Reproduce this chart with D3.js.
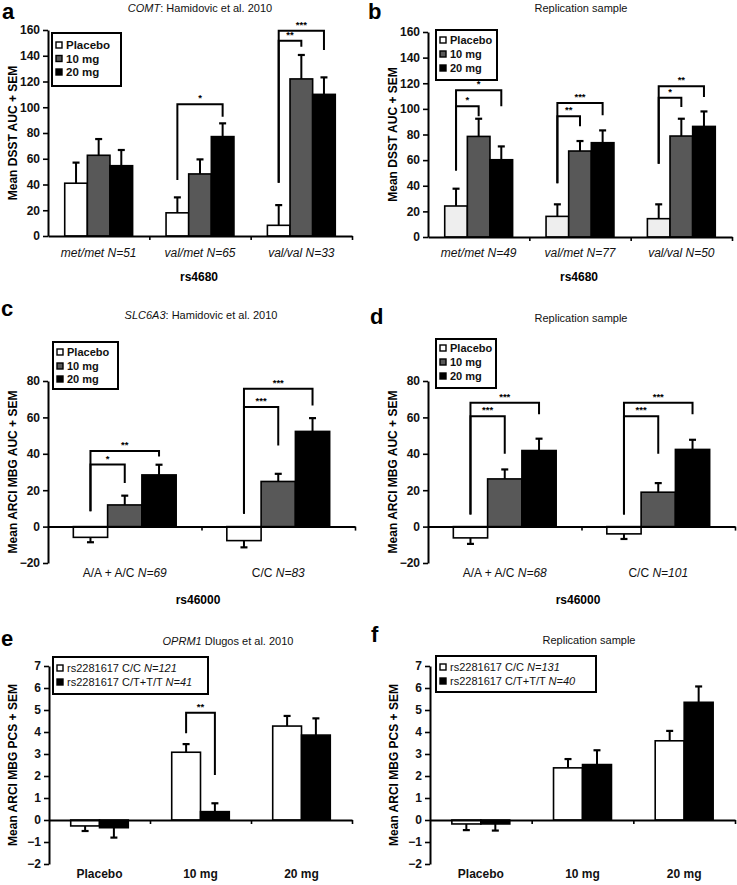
<!DOCTYPE html>
<html><head><meta charset="utf-8">
<script src="https://cdn.jsdelivr.net/npm/d3@7"></script>
<style>body{margin:0;background:#fff}svg{display:block;font-family:"Liberation Sans",Arial,sans-serif}</style>
</head><body><svg id="chart" width="737" height="885"></svg>
<script>
// ---------------- DATA ----------------
const doseSeries = ["Placebo", "10 mg", "20 mg"];
const comtGenotypes = ["met/met", "val/met", "val/val"];
const comtN_a = ["N=51", "N=65", "N=33"];
const comtN_b = ["N=49", "N=77", "N=50"];
const dsstTicks = [0, 20, 40, 60, 80, 100, 120, 140, 160];

const a_placebo = [41, 18, 8.3],  a_placeboSEM = [16, 12, 15.7];
const a_10mg    = [62.7, 48.2, 122], a_10mgSEM = [12.6, 11.3, 18.6];
const a_20mg    = [54.6, 77.2, 110], a_20mgSEM = [12.2, 10.3, 13.2];

const b_placebo = [24.2, 16.1, 14.3], b_placeboSEM = [13.5, 9.4, 11.2];
const b_10mg    = [78.5, 67.1, 78.8], b_10mgSEM = [13.8, 7.8, 13.5];
const b_20mg    = [60.3, 73.6, 86.3], b_20mgSEM = [10.4, 9.6, 11.7];

const slcGenotypes = ["A/A + A/C", "C/C"];
const slcN_c = ["N=69", "N=83"];
const slcN_d = ["N=68", "N=101"];
const mbgTicks = [-20, 0, 20, 40, 60, 80];

const c_placebo = [-5.9, -7.7], c_placeboSEM = [2.7, 3.7];
const c_10mg    = [11.9, 24.8], c_10mgSEM = [5.1, 4.2];
const c_20mg    = [28.4, 52.3], c_20mgSEM = [5.6, 7.3];

const d_placebo = [-6.2, -4.0], d_placeboSEM = [3.3, 2.8];
const d_10mg    = [26.2, 18.9], d_10mgSEM = [5.2, 5.0];
const d_20mg    = [41.8, 42.4], d_20mgSEM = [6.5, 5.3];

const oprmDoses = ["Placebo", "10 mg", "20 mg"];
const oprmSeries_e = [["rs2281617 C/C ", "N=121"], ["rs2281617 C/T+T/T ", "N=41"]];
const oprmSeries_f = [["rs2281617 C/C ", "N=131"], ["rs2281617 C/T+T/T ", "N=40"]];
const pcsTicks = [-2, -1, 0, 1, 2, 3, 4, 5, 6, 7];

const e_CC = [-0.27, 3.08, 4.27], e_CCSEM = [0.23, 0.37, 0.46];
const e_CT = [-0.35, 0.38, 3.86], e_CTSEM = [0.45, 0.38, 0.76];

const f_CC = [-0.18, 2.37, 3.6],  f_CCSEM = [0.28, 0.4, 0.45];
const f_CT = [-0.18, 2.52, 5.35], f_CTSEM = [0.3, 0.65, 0.72];

// significance brackets: [category, fromSeries, toSeries, top, leftBottom, rightBottom, label]
const a_sig = [[1, 0, 2, 102.3, 43.5, 92.7, "*"], [2, 0, 1, 151.7, 41.4, 147, "**"], [2, 0, 2, 159.5, 41.4, 144.5, "***"]];
const b_sig = [[0, 0, 1, 102, 52, 94.2, "*"], [0, 0, 2, 114.5, 52, 102, "*"],
               [1, 0, 1, 94.2, 42, 86.4, "**"], [1, 0, 2, 104.6, 42, 95, "***"],
               [2, 0, 1, 108.7, 57.2, 101.5, "*"], [2, 0, 2, 117.6, 57.2, 109.3, "**"]];
const c_sig = [[0, 0, 1, 34.1, 8.4, 23.9, "*"], [0, 0, 2, 41.5, 8.4, 38.5, "**"],
               [1, 0, 1, 65.7, 7, 44.6, "***"], [1, 0, 2, 75.8, 7, 66.6, "***"]];
const d_sig = [[0, 0, 1, 60.6, 6.6, 40, "***"], [0, 0, 2, 68.1, 6.6, 61.7, "***"],
               [1, 0, 1, 60.6, 6.6, 40, "***"], [1, 0, 2, 68.1, 6.6, 61.7, "***"]];
const e_sig = [[1, 0, 1, 4.88, 3.94, 2.05, "**"]];
const f_sig = [];

// ---------------- DRAWING ----------------
const svg = d3.select("#chart");
const GRAY = "#585858";

function drawPanel(cfg) {
  const g = svg.append("g");
  const nCat = cfg.categories.length;
  const x = d3.scaleBand().domain(d3.range(nCat)).range([cfg.x0, cfg.x1]);
  const y = d3.scaleLinear().domain(cfg.yDomain).range([cfg.yBottom, cfg.yTop]);
  const groupW = x.bandwidth() * cfg.groupFrac;
  const xs = d3.scaleBand().domain(d3.range(cfg.series.length)).range([0, groupW]);
  const bx = (ci, si) => x(ci) + (x.bandwidth() - groupW) / 2 + xs(si);
  const bc = (ci, si) => bx(ci, si) + xs.bandwidth() / 2;

  // bars + error bars
  cfg.series.forEach((s, si) => {
    s.values.forEach((v, ci) => {
      const e = v + (v < 0 ? -s.sem[ci] : s.sem[ci]);
      g.append("line").attr("x1", bc(ci, si)).attr("x2", bc(ci, si))
        .attr("y1", y(v)).attr("y2", y(e)).attr("stroke", "#000").attr("stroke-width", 2);
      g.append("line").attr("x1", bc(ci, si) - 3.5).attr("x2", bc(ci, si) + 3.5)
        .attr("y1", y(e)).attr("y2", y(e)).attr("stroke", "#000").attr("stroke-width", 2.2);
    });
    g.selectAll(null).data(s.values).enter().append("rect")
      .attr("x", (v, ci) => bx(ci, si))
      .attr("y", v => Math.min(y(v), y(0)))
      .attr("width", xs.bandwidth())
      .attr("height", v => Math.abs(y(v) - y(0)))
      .attr("fill", s.color).attr("stroke", "#000").attr("stroke-width", 1.6);
  });

  // y axis
  const ya = g.append("g").attr("transform", `translate(${cfg.x0},0)`)
    .call(d3.axisLeft(y).tickValues(cfg.ticks).tickSize(5).tickSizeOuter(0).tickPadding(3));
  ya.select(".domain").attr("stroke-width", 2);
  ya.selectAll(".tick line").attr("stroke-width", 1.6);
  ya.selectAll(".tick text").attr("font-size", 12).attr("font-weight", "bold")
    .attr("font-family", "Liberation Sans, Arial, sans-serif").attr("fill", "#111");

  // x axis at zero
  const xl = d3.scaleLinear().domain([0, nCat]).range([cfg.x0, cfg.x1]);
  const xa = g.append("g").attr("transform", `translate(0,${y(0)})`)
    .call(d3.axisBottom(xl).tickValues(d3.range(1, nCat + 1)).tickFormat("").tickSize(4).tickSizeOuter(0));
  xa.select(".domain").attr("stroke-width", 2);
  xa.selectAll(".tick line").attr("stroke-width", 1.6);

  // significance brackets
  cfg.sig.forEach(([ci, s0, s1, top, lb, rb, lab]) => {
    const xa0 = bc(ci, s0), xa1 = bc(ci, s1);
    g.append("path")
      .attr("d", `M${xa0},${y(lb)}V${y(top)}H${xa1}V${y(rb)}`)
      .attr("fill", "none").attr("stroke", "#000").attr("stroke-width", 2);
    g.append("text").attr("x", (xa0 + xa1) / 2).attr("y", y(top) - 3)
      .attr("text-anchor", "middle").attr("font-size", 9.5).attr("font-weight", "bold").text(lab);
  });

  // category labels
  cfg.categories.forEach((c, ci) => {
    const t = g.append("text").attr("x", x(ci) + x.bandwidth() / 2).attr("y", cfg.catY)
      .attr("text-anchor", "middle").attr("font-size", cfg.catSize || 12)
      .attr("font-weight", cfg.catBold ? "bold" : "normal").attr("fill", "#111");
    t.append("tspan").attr("font-style", cfg.catItalic ? "italic" : "normal").text(c);
    if (cfg.catN) t.append("tspan").attr("font-style", "italic").text(" " + cfg.catN[ci]);
  });

  // x title
  if (cfg.xTitle) g.append("text").attr("x", cfg.xTitle[1]).attr("y", cfg.xTitle[2])
    .attr("text-anchor", "middle").attr("font-size", 12).attr("font-weight", "bold").text(cfg.xTitle[0]);

  // y title
  g.append("text").attr("transform", `translate(${cfg.yTitleX},${(y.range()[0] + y.range()[1]) / 2}) rotate(-90)`)
    .attr("text-anchor", "middle").attr("font-size", 12).attr("font-weight", "bold").text(cfg.yTitle);

  // panel title
  const tt = g.append("text").attr("x", cfg.title.x).attr("y", cfg.title.y)
    .attr("text-anchor", "middle").attr("font-size", 11).attr("fill", "#111");
  cfg.title.parts.forEach(([txt, it]) => tt.append("tspan").attr("font-style", it ? "italic" : "normal").text(txt));

  // panel letter
  g.append("text").attr("x", cfg.letter[1]).attr("y", cfg.letter[2])
    .attr("font-size", 22).attr("font-weight", "bold").text(cfg.letter[0]);

  // legend
  const L = cfg.legend;
  g.append("rect").attr("x", L.x).attr("y", L.y).attr("width", L.w).attr("height", L.h)
    .attr("fill", "#fff").attr("stroke", "#000").attr("stroke-width", 2);
  cfg.series.forEach((s, si) => {
    const ry = L.rows[si];
    g.append("rect").attr("x", L.x + 4).attr("y", ry - 3).attr("width", 6).attr("height", 6)
      .attr("fill", s.legendColor || s.color).attr("stroke", "#000").attr("stroke-width", 1.4);
    const t = g.append("text").attr("x", L.x + 14).attr("y", ry + 4)
      .attr("font-size", L.size).attr("font-weight", L.bold ? "bold" : "normal").attr("fill", "#111");
    t.append("tspan").text(s.label[0]);
    if (s.label[1]) t.append("tspan").attr("font-style", "italic").text(s.label[1]);
  });
}

// Panel a
drawPanel({
  x0: 48, x1: 352, yTop: 30, yBottom: 236, yDomain: [0, 160], ticks: dsstTicks, groupFrac: 0.67,
  categories: comtGenotypes, catN: comtN_a, catItalic: true, catY: 257,
  xTitle: ["rs4680", 199, 281], yTitle: "Mean DSST AUC + SEM", yTitleX: 17,
  title: { x: 200, y: 12, parts: [["COMT", true], [": Hamidovic et al. 2010", false]] },
  letter: ["a", 2, 19],
  series: [
    { label: [doseSeries[0]], values: a_placebo, sem: a_placeboSEM, color: "#fff" },
    { label: [doseSeries[1]], values: a_10mg, sem: a_10mgSEM, color: GRAY },
    { label: [doseSeries[2]], values: a_20mg, sem: a_20mgSEM, color: "#000" }],
  sig: a_sig,
  legend: { x: 52, y: 33, w: 69, h: 53, rows: [45, 58.5, 72], size: 11.5, bold: true }
});

// Panel b
drawPanel({
  x0: 428, x1: 732, yTop: 32, yBottom: 237, yDomain: [0, 160], ticks: dsstTicks, groupFrac: 0.67,
  categories: comtGenotypes, catN: comtN_b, catItalic: true, catY: 257,
  xTitle: ["rs4680", 579, 281], yTitle: "Mean DSST AUC + SEM", yTitleX: 397,
  title: { x: 581, y: 12, parts: [["Replication sample", false]] },
  letter: ["b", 368, 19],
  series: [
    { label: [doseSeries[0]], values: b_placebo, sem: b_placeboSEM, color: "#eeeeee", legendColor: "#fff" },
    { label: [doseSeries[1]], values: b_10mg, sem: b_10mgSEM, color: GRAY },
    { label: [doseSeries[2]], values: b_20mg, sem: b_20mgSEM, color: "#000" }],
  sig: b_sig,
  legend: { x: 436, y: 30, w: 61, h: 50, rows: [40, 54, 68], size: 11, bold: true }
});

// Panel c
drawPanel({
  x0: 48, x1: 355, yTop: 381, yBottom: 563, yDomain: [-20, 80], ticks: mbgTicks, groupFrac: 0.67,
  categories: slcGenotypes, catN: slcN_c, catItalic: false, catY: 577,
  xTitle: ["rs46000", 198, 604], yTitle: "Mean ARCI MBG AUC + SEM", yTitleX: 17,
  title: { x: 201, y: 319, parts: [["SLC6A3", true], [": Hamidovic et al. 2010", false]] },
  letter: ["c", 1, 316],
  series: [
    { label: [doseSeries[0]], values: c_placebo, sem: c_placeboSEM, color: "#fff" },
    { label: [doseSeries[1]], values: c_10mg, sem: c_10mgSEM, color: GRAY },
    { label: [doseSeries[2]], values: c_20mg, sem: c_20mgSEM, color: "#000" }],
  sig: c_sig,
  legend: { x: 53, y: 342, w: 65, h: 47, rows: [352, 366, 379], size: 11, bold: true }
});

// Panel d
drawPanel({
  x0: 428, x1: 735, yTop: 381, yBottom: 563, yDomain: [-20, 80], ticks: mbgTicks, groupFrac: 0.67,
  categories: slcGenotypes, catN: slcN_d, catItalic: false, catY: 577,
  xTitle: ["rs46000", 578, 604], yTitle: "Mean ARCI MBG AUC + SEM", yTitleX: 397,
  title: { x: 581, y: 322, parts: [["Replication sample", false]] },
  letter: ["d", 370, 324],
  series: [
    { label: [doseSeries[0]], values: d_placebo, sem: d_placeboSEM, color: "#fff" },
    { label: [doseSeries[1]], values: d_10mg, sem: d_10mgSEM, color: GRAY },
    { label: [doseSeries[2]], values: d_20mg, sem: d_20mgSEM, color: "#000" }],
  sig: d_sig,
  legend: { x: 436, y: 339, w: 60, h: 49, rows: [348, 362, 376], size: 11, bold: true }
});

// Panel e
drawPanel({
  x0: 49, x1: 352, yTop: 666, yBottom: 864, yDomain: [-2, 7], ticks: pcsTicks, groupFrac: 0.57,
  categories: oprmDoses, catN: null, catItalic: false, catBold: true, catY: 878,
  xTitle: null, yTitle: "Mean ARCI MBG PCS + SEM", yTitleX: 17,
  title: { x: 228, y: 645, parts: [["OPRM1", true], [" Dlugos et al. 2010", false]] },
  letter: ["e", 1, 646],
  series: [
    { label: oprmSeries_e[0], values: e_CC, sem: e_CCSEM, color: "#fff" },
    { label: oprmSeries_e[1], values: e_CT, sem: e_CTSEM, color: "#000" }],
  sig: e_sig,
  legend: { x: 53, y: 657, w: 155, h: 37, rows: [668, 682], size: 11, bold: false }
});

// Panel f
drawPanel({
  x0: 430, x1: 735, yTop: 666, yBottom: 864, yDomain: [-2, 7], ticks: pcsTicks, groupFrac: 0.57,
  categories: oprmDoses, catN: null, catItalic: false, catBold: true, catY: 878,
  xTitle: null, yTitle: "Mean ARCI MBG PCS + SEM", yTitleX: 398,
  title: { x: 589, y: 644, parts: [["Replication sample", false]] },
  letter: ["f", 371, 642],
  series: [
    { label: oprmSeries_f[0], values: f_CC, sem: f_CCSEM, color: "#fff" },
    { label: oprmSeries_f[1], values: f_CT, sem: f_CTSEM, color: "#000" }],
  sig: f_sig,
  legend: { x: 436, y: 656, w: 160, h: 36, rows: [667, 681], size: 11, bold: false }
});
</script></body></html>
